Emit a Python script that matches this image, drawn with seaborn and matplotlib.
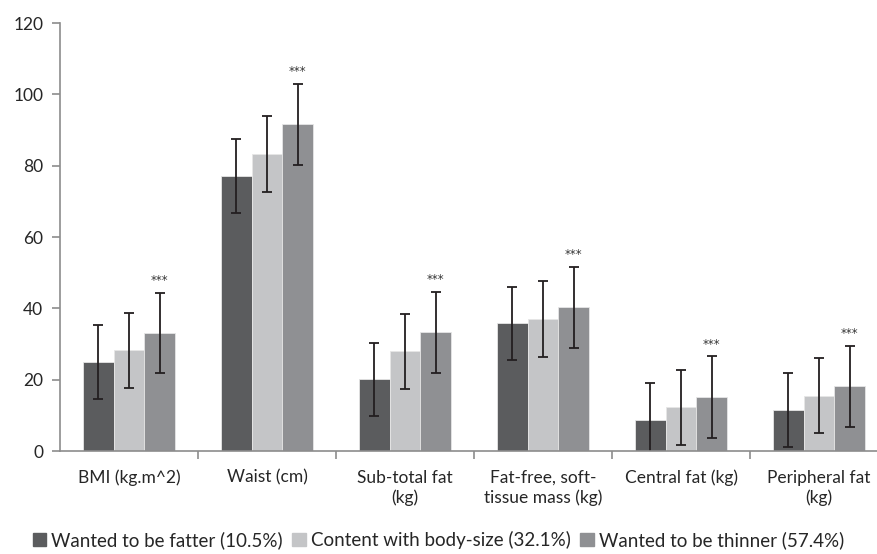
import matplotlib.pyplot as plt
import pandas as pd
import seaborn as sns
import numpy as np

# Data
categories = ['BMI (kg.m^2)', 'Waist (cm)', 'Sub-total fat\n(kg)',
              'Fat-free, soft-\ntissue mass (kg)', 'Central fat (kg)',
              'Peripheral fat\n(kg)']
groups = ['Wanted to be fatter (10.5%)', 'Content with body-size (32.1%)',
          'Wanted to be thinner (57.4%)']
fatter_mean = [25.0, 77.1, 20.1, 35.8, 8.7, 11.5]
fatter_sd = [10.3, 10.3, 10.2, 10.2, 10.3, 10.3]
content_mean = [28.3, 83.2, 27.9, 37.0, 12.2, 15.5]
content_sd = [10.5, 10.6, 10.5, 10.6, 10.5, 10.5]
thinner_mean = [33.1, 91.6, 33.3, 40.3, 15.1, 18.1]
thinner_sd = [11.3, 11.4, 11.3, 11.3, 11.4, 11.4]
significance = ['***', '***', '***', '***', '***', '***']

colors = ['#5b5c5e', '#c4c5c7', '#8f9093']

df = pd.DataFrame({
    'measure': categories * 3,
    'group': [g for g in groups for _ in categories],
    'mean': fatter_mean + content_mean + thinner_mean,
    'sd': fatter_sd + content_sd + thinner_sd,
})

sns.set_style('white')
plt.rcParams['font.family'] = ['Lato', 'DejaVu Sans']

fig = plt.figure(figsize=(8.77, 5.54), dpi=100)
ax = fig.add_axes([60 / 877, 103 / 554, 817 / 877, 428 / 554])

sns.barplot(data=df, x='measure', y='mean', hue='group', order=categories,
            hue_order=groups, palette=colors, errorbar=None, width=0.67,
            saturation=1, edgecolor='#e6e6e6', linewidth=0.6, ax=ax)

# error bars (mean +/- sd) drawn on the seaborn bars
for container, g in zip(ax.containers, groups):
    sub = df[df['group'] == g].set_index('measure').loc[categories]
    xs = [p.get_x() + p.get_width() / 2 for p in container.patches]
    ax.errorbar(xs, sub['mean'], yerr=sub['sd'], fmt='none', ecolor='#231f20',
                elinewidth=1.3, capsize=3.5, capthick=1.3)
    if g == groups[2]:
        for x, m, s, sig in zip(xs, sub['mean'], sub['sd'], significance):
            ax.annotate(sig, (x, m + s), xytext=(0, 4), textcoords='offset points',
                        ha='center', va='bottom', fontsize=8.5, color='#333333',
                        family='DejaVu Sans')

ax.set_ylim(0, 120)
ax.set_yticks(range(0, 121, 20))
ax.set_xlim(-0.5, 5.42)
ax.set_xlabel('')
ax.set_ylabel('')

for side in ['top', 'right']:
    ax.spines[side].set_visible(False)
for side in ['left', 'bottom']:
    ax.spines[side].set_color('#8c8c8c')
    ax.spines[side].set_linewidth(1.2)

ax.tick_params(axis='y', which='major', left=True, length=6, width=1.2,
               color='#8c8c8c', labelsize=12.5, labelcolor='#262626', pad=6)
ax.tick_params(axis='x', which='major', bottom=False, labelsize=12.5,
               labelcolor='#262626', pad=10)
for lbl in ax.get_xticklabels():
    lbl.set_linespacing(1.25)
ax.set_xticks(np.arange(0.5, 5.0, 1.0), minor=True)
ax.tick_params(axis='x', which='minor', bottom=True, length=6, width=1.2,
               color='#8c8c8c')

ax.get_legend().remove()
handles = [plt.Rectangle((0, 0), 1, 1, color=c) for c in colors]
fig.legend(handles, groups, loc='center', bbox_to_anchor=(0.5, 1 - 540 / 554),
           ncol=3, frameon=False, fontsize=13.5, handlelength=0.7, handleheight=0.7,
           handletextpad=0.3, columnspacing=0.5, labelcolor='#262626')

fig.savefig('out.png', dpi=100)
